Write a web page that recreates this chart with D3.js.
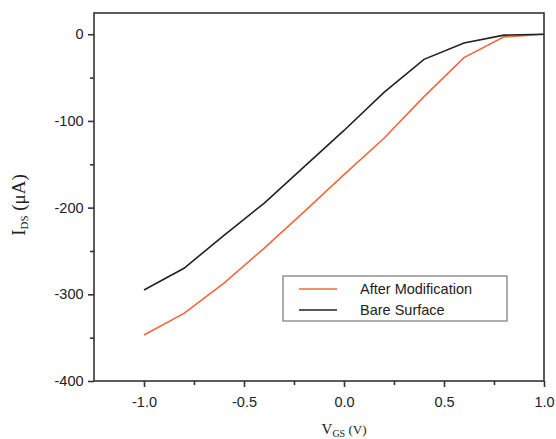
<!DOCTYPE html>
<html><head><meta charset="utf-8">
<script src="https://cdn.jsdelivr.net/npm/d3@7"></script>
<style>body{margin:0;background:#fff}</style>
</head><body>
<svg id="c" width="556" height="439"></svg>
<script>
const vgs = [-1.0,-0.8,-0.6,-0.4,-0.2,0.0,0.2,0.4,0.6,0.8,1.0];
const afterMod = [-347,-322,-287,-247,-205,-162,-120,-72,-27,-3,0];
const bare = [-295,-270,-232,-195,-153,-111,-67,-29,-10,-1,0];
const seriesNames = ["After Modification","Bare Surface"];
const seriesColors = ["#f0683c","#222222"];
const xTicks = [-1.0,-0.5,0.0,0.5,1.0];
const yTicks = [0,-100,-200,-300,-400];

const svg = d3.select("#c");
const L=94, R=544, T=13, B=381;
const x = d3.scaleLinear().domain([-1.25,1.0]).range([L,R]);
const y = d3.scaleLinear().domain([-400,24.5]).range([B,T]);

const axisColor="#333";
svg.append("rect").attr("x",L).attr("y",T).attr("width",R-L).attr("height",B-T)
  .attr("fill","none").attr("stroke",axisColor).attr("stroke-width",1.6);

const hy = s => s.replace("\u2212","-");
const xa = svg.append("g").attr("transform",`translate(0,${B})`)
  .call(d3.axisBottom(x).tickValues(xTicks).tickFormat(d=>hy(d3.format(".1f")(d))).tickSize(6).tickSizeOuter(0));
const xm = svg.append("g").attr("transform",`translate(0,${B})`)
  .call(d3.axisBottom(x).tickValues([-0.75,-0.25,0.25,0.75]).tickFormat("").tickSize(4).tickSizeOuter(0));
const ya = svg.append("g").attr("transform",`translate(${L},0)`)
  .call(d3.axisLeft(y).tickValues(yTicks).tickFormat(d=>hy(d3.format("d")(d))).tickSize(6).tickSizeOuter(0));
const ym = svg.append("g").attr("transform",`translate(${L},0)`)
  .call(d3.axisLeft(y).tickValues([-50,-150,-250,-350]).tickFormat("").tickSize(4).tickSizeOuter(0));
[xa,xm,ya,ym].forEach(g=>{
  g.select(".domain").remove();
  g.selectAll("line").attr("stroke",axisColor).attr("stroke-width",1.6);
  g.selectAll("text").attr("fill","#222").style("font-family","'Liberation Sans',Arial,sans-serif").style("font-size","14.5px");
});
xa.selectAll("text").attr("dy","1.15em");
ya.selectAll("text").attr("dx","-0.1em");

const line = d3.line().x((d,i)=>x(vgs[i])).y(d=>y(d));
[afterMod,bare].forEach((s,k)=>{
  svg.append("path").datum(s).attr("d",line).attr("fill","none")
    .attr("stroke",seriesColors[k]).attr("stroke-width",1.6);
});

const lg = svg.append("g");
lg.append("rect").attr("x",283).attr("y",276).attr("width",224).attr("height",45)
  .attr("fill","#fff").attr("stroke","#777").attr("stroke-width",1.2);
seriesNames.forEach((n,k)=>{
  const yy = 289 + k*21;
  lg.append("line").attr("x1",299).attr("x2",337).attr("y1",yy).attr("y2",yy)
    .attr("stroke",seriesColors[k]).attr("stroke-width",1.6);
  lg.append("text").attr("x",360).attr("y",yy+5).text(n)
    .style("font-family","'Liberation Sans',Arial,sans-serif").style("font-size","14.5px").attr("fill","#222");
});

const serif="'Liberation Serif','Times New Roman',serif";
const xt = svg.append("text").attr("x",344).attr("y",434).attr("text-anchor","middle")
  .style("font-family",serif).style("font-size","15px").attr("fill","#222");
xt.append("tspan").text("V");
xt.append("tspan").text("GS").attr("dy",3).style("font-size","10px");
xt.append("tspan").text(" (V)").attr("dy",-3).style("font-size","13px");

const yt = svg.append("text").attr("transform","translate(25,205) rotate(-90)").attr("text-anchor","middle")
  .style("font-family",serif).style("font-size","19px").attr("fill","#222");
yt.append("tspan").text("I");
yt.append("tspan").text("DS").attr("dy",3).style("font-size","11px");
yt.append("tspan").text(" (μA)").attr("dy",-3);
</script>
</body></html>
